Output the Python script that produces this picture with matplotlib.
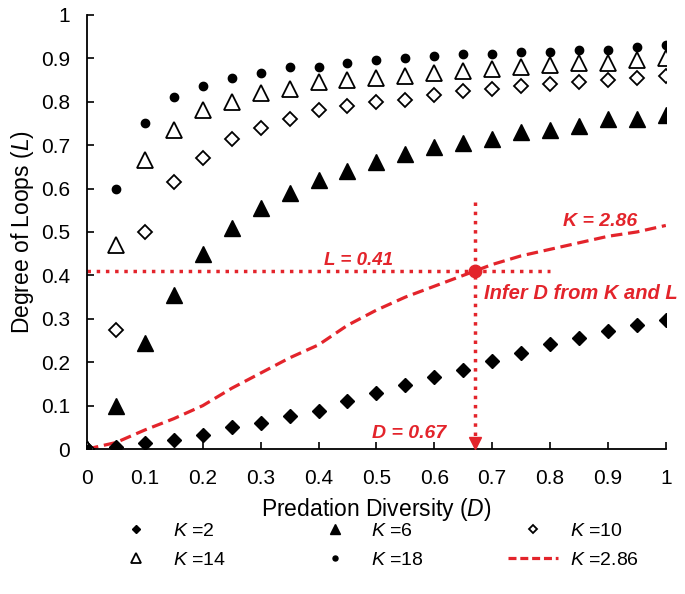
import numpy as np
import matplotlib.pyplot as plt
from matplotlib.lines import Line2D

plt.rcParams["font.family"] = ["Liberation Sans", "DejaVu Sans"]
plt.rcParams["mathtext.fontset"] = "custom"
plt.rcParams["mathtext.rm"] = "Liberation Sans"
plt.rcParams["mathtext.it"] = "Liberation Sans:italic"
plt.rcParams["mathtext.bf"] = "Liberation Sans:bold:italic"

RED = "#e3242b"

# Predation diversity values
D = [0.0, 0.05, 0.1, 0.15, 0.2, 0.25, 0.3, 0.35, 0.4, 0.45, 0.5,
     0.55, 0.6, 0.65, 0.7, 0.75, 0.8, 0.85, 0.9, 0.95, 1.0]

# Degree of loops for each K
L_k2 = [0.0, 0.005, 0.013, 0.02, 0.033, 0.05, 0.06, 0.075, 0.088, 0.11, 0.13,
        0.148, 0.165, 0.183, 0.203, 0.222, 0.242, 0.255, 0.272, 0.285, 0.298]
L_k6 = [0.0, 0.10, 0.245, 0.355, 0.45, 0.51, 0.555, 0.59, 0.62, 0.64, 0.66,
        0.68, 0.695, 0.705, 0.715, 0.73, 0.735, 0.745, 0.76, 0.76, 0.77]
L_k10 = [0.0, 0.275, 0.50, 0.615, 0.67, 0.715, 0.74, 0.76, 0.78, 0.79, 0.80,
         0.805, 0.815, 0.825, 0.83, 0.835, 0.84, 0.845, 0.85, 0.855, 0.86]
L_k14 = [0.0, 0.47, 0.665, 0.735, 0.78, 0.80, 0.82, 0.83, 0.845, 0.85, 0.855,
         0.86, 0.865, 0.87, 0.875, 0.88, 0.885, 0.89, 0.89, 0.895, 0.90]
L_k18 = [0.0, 0.60, 0.75, 0.81, 0.835, 0.855, 0.865, 0.88, 0.88, 0.89, 0.895,
         0.90, 0.905, 0.91, 0.91, 0.915, 0.915, 0.92, 0.92, 0.925, 0.93]

# Fitted curve for K = 2.86
L_k286 = [0.0, 0.015, 0.044, 0.07, 0.10, 0.14, 0.175, 0.21, 0.24, 0.285, 0.32,
          0.35, 0.375, 0.40, 0.425, 0.445, 0.46, 0.475, 0.49, 0.50, 0.515]

# Inference point
D_inf = 0.67
L_inf = 0.41

tick_labels = ["0", "0.1", "0.2", "0.3", "0.4", "0.5", "0.6", "0.7", "0.8", "0.9", "1"]

fig = plt.figure(figsize=(6.85, 5.94), dpi=100)
ax = fig.add_axes([0.127, 0.244, 0.845, 0.731])

ax.plot(D, L_k286, "--", color=RED, lw=2.3, dashes=(3.6, 1.8), zorder=2)
h2, = ax.plot(D, L_k2, "D", color="black", ms=7.5, ls="none", zorder=3)
h6, = ax.plot(D, L_k6, "^", color="black", ms=11, ls="none", zorder=3)
h10, = ax.plot(D, L_k10, "D", mfc="white", mec="black", mew=1.3, ms=7.5, ls="none", zorder=3)
h14, = ax.plot(D, L_k14, "^", mfc="white", mec="black", mew=1.3, ms=11, ls="none", zorder=3)
h18, = ax.plot(D, L_k18, "o", color="black", ms=6, ls="none", zorder=3)

# Reading lines
ax.plot([0, 0.8], [L_inf, L_inf], ":", color=RED, lw=2.5, zorder=2)
ax.plot([D_inf, D_inf], [0.57, 0.02], ":", color=RED, lw=2.5, zorder=2)
ax.plot([D_inf], [0.013], "v", color=RED, ms=9, zorder=4)
ax.plot([D_inf], [L_inf], "o", color=RED, ms=9, zorder=4)

txt = dict(color=RED, fontweight="bold", style="italic", va="baseline")
ax.text(0.41, 0.424, "L = 0.41", fontsize=13.5, **txt)
ax.text(0.822, 0.514, "K = 2.86", fontsize=14, **txt)
ax.text(0.686, 0.346, "Infer D from K and L", fontsize=14.5, **txt)
ax.text(0.492, 0.025, "D = 0.67", fontsize=14, **txt)

ax.set_xlim(0, 1)
ax.set_ylim(0, 1)
ax.set_xticks(np.arange(0, 1.01, 0.1))
ax.set_yticks(np.arange(0, 1.01, 0.1))
ax.set_xticklabels(tick_labels)
ax.set_yticklabels(tick_labels)
ax.tick_params(direction="in", length=5, width=1.2, labelsize=15)
ax.tick_params(axis="x", pad=14)
ax.tick_params(axis="y", pad=12)
for s in ["top", "right"]:
    ax.spines[s].set_visible(False)
for s in ["left", "bottom"]:
    ax.spines[s].set_linewidth(1.3)
ax.set_xlabel("Predation Diversity ($\\it{D}$)", fontsize=16.5, labelpad=6)
ax.set_ylabel("Degree of Loops ($\\it{L}$)", fontsize=16.5, labelpad=4)

hline = Line2D([], [], color=RED, ls="--", lw=2.3, dashes=(2.5, 1.2))
handles = [h2, h14, h6, h18, h10, hline]
labels = ["$K$ =2", "$K$ =14", "$K$ =6", "$K$ =18", "$K$ =10", "$K$ =2.86"]
fig.legend(handles, labels, loc="upper center", bbox_to_anchor=(0.547, 0.15),
           ncol=3, frameon=False, fontsize=14, markerscale=0.6,
           columnspacing=4.3, handlelength=2.6, handletextpad=0.6, labelspacing=0.6)

fig.savefig("out.png", dpi=100)
